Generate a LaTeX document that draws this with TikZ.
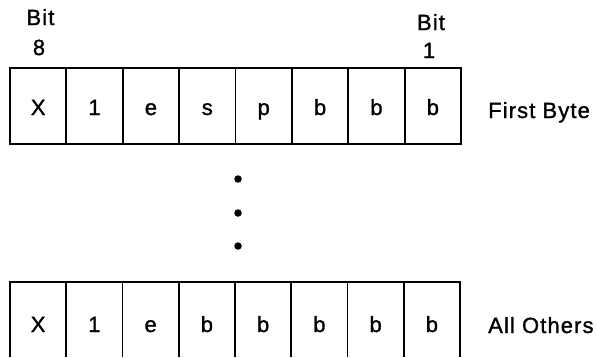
\documentclass[tikz,border=0pt]{standalone}
\usepackage{fontspec}
\setmainfont{Liberation Sans}[LetterSpace=5,FakeBold=1.2]
\begin{document}
\begin{tikzpicture}[x=1pt,y=-1pt,
  frame/.style={line width=1.8pt,line join=miter},
  label/.style={inner sep=0pt,anchor=base,font=\fontsize{22}{26}\selectfont},
  side/.style={inner sep=0pt,anchor=base west,font=\fontsize{22}{26}\selectfont},
  dot/.style={circle,fill=black,inner sep=0pt,minimum size=7.5pt}]
\useasboundingbox (0,0) rectangle (597,357);
% bit numbering above the first byte
\node[label] (bit8w) at (40.5,25) {Bit};
\node[label] (bit8n) at (39,55) {8};
\node[label] (bit1w) at (431,30) {Bit};
\node[label] (bit1n) at (429,58) {1};
% first byte: eight cells
\def\cw{56.375}
\draw[frame] (10,68) rectangle (461,144);
\foreach \k in {1,...,7}
  \draw[frame] ({10+\k*\cw},68) -- ({10+\k*\cw},144);
\foreach \t [count=\i] in {X,1,e,s,p,b,b,b}
  \node[label] (f\i) at ({10+(\i-0.5)*\cw},115) {\t};
\node[side] (first) at (488,118) {First Byte};
% continuation dots
\node[dot] (d1) at (238,179) {};
\node[dot] (d2) at (238,213) {};
\node[dot] (d3) at (238,246) {};
% remaining bytes: open at the bottom
\draw[frame] (10,357) -- (10,282) -- (460,282) -- (460,357);
\foreach \k in {1,...,7}
  \draw[frame] ({10+\k*56.25},282) -- ({10+\k*56.25},357);
\foreach \t [count=\i] in {X,1,e,b,b,b,b,b}
  \node[label] (o\i) at ({10+(\i-0.5)*56.25},332) {\t};
\node[side] (others) at (488,333) {All Others};
\end{tikzpicture}
\end{document}
